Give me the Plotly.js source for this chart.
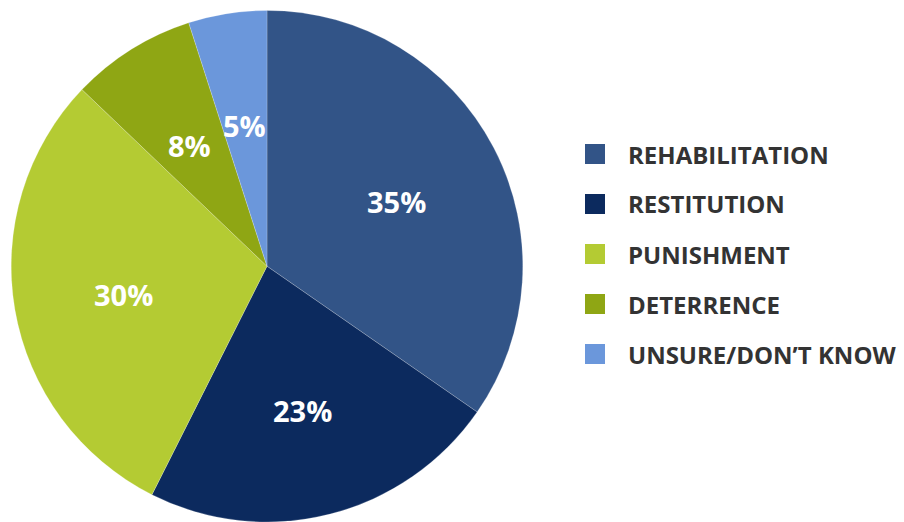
<!DOCTYPE html>
<html>
<head>
<meta charset="utf-8">
<script src="https://cdn.plot.ly/plotly-3.0.1.min.js"></script>
<style>
  html, body { margin: 0; padding: 0; background: #fff; }
  #chart { width: 904px; height: 522px; }
</style>
</head>
<body>
<div id="chart"></div>
<script>
  // --- Data ---
  const categories = ["REHABILITATION", "RESTITUTION", "PUNISHMENT", "DETERRENCE", "UNSURE/DON\u2019T KNOW"];
  const shares = [35, 23, 30, 8, 5];
  const sliceColors = ["#325487", "#0c2a5e", "#b4cb33", "#8fa614", "#6b97db"];

  const W = 904, H = 522;
  const pieDomainX = [10 / W, 524 / W];
  const pieDomainY = [0, 0.98];

  const shapes = [];
  const annotations = [];

  // Legend is drawn by hand so the swatches can be big squares like the original
  const legendX = 585 / W;        // left edge of swatches (paper)
  const legendTop = 154;          // px from top, first row centre
  const legendStep = 50;          // px between rows
  const swatch = 20;              // px
  categories.forEach(function (name, i) {
    const yc = 1 - (legendTop + i * legendStep) / H;
    const h = swatch / 2 / H;
    shapes.push({
      type: "rect", xref: "paper", yref: "paper",
      x0: legendX, x1: legendX + swatch / W,
      y0: yc - h, y1: yc + h,
      fillcolor: sliceColors[i], line: { width: 0 }
    });
    annotations.push({
      xref: "paper", yref: "paper", x: 626 / W, y: yc,
      xanchor: "left", yanchor: "middle", showarrow: false,
      text: name,
      font: { family: "Open Sans", size: 24, color: "#333333", weight: 700 }
    });
  });

  // Percentage labels sit at ~57% of the radius on each slice's mid-angle
  // (plotly pushes the small-slice labels out to the rim, the original does not)
  const total = shares.reduce(function (a, b) { return a + b; }, 0);
  const cxPx = (pieDomainX[0] + pieDomainX[1]) / 2 * W;
  const cyPx = (pieDomainY[0] + pieDomainY[1]) / 2 * H;
  const rPx = Math.min((pieDomainX[1] - pieDomainX[0]) * W, (pieDomainY[1] - pieDomainY[0]) * H) / 2;
  const labelR = 0.57;
  let cum = 0;
  shares.forEach(function (v) {
    const mid = (cum + v / 2) / total * 2 * Math.PI; // clockwise from 12 o'clock
    cum += v;
    annotations.push({
      xref: "paper", yref: "paper",
      x: (cxPx + labelR * rPx * Math.sin(mid)) / W,
      y: (cyPx + labelR * rPx * Math.cos(mid)) / H,
      xanchor: "center", yanchor: "middle", showarrow: false,
      yshift: -3,
      text: v + "%",
      font: { family: "Open Sans", size: 29, color: "#ffffff", weight: 700 }
    });
  });

  const data = [{
    type: "pie",
    labels: categories,
    values: shares,
    sort: false,
    direction: "clockwise",
    rotation: 0,
    marker: { colors: sliceColors, line: { color: "rgba(255,255,255,0.4)", width: 0.5 } },
    textinfo: "none",
    hoverinfo: "label+value",
    domain: { x: pieDomainX, y: pieDomainY }
  }];

  const layout = {
    width: W,
    height: H,
    margin: { l: 0, r: 0, t: 0, b: 0 },
    paper_bgcolor: "#ffffff",
    showlegend: false,
    shapes: shapes,
    annotations: annotations
  };

  Plotly.newPlot("chart", data, layout, { displayModeBar: false, staticPlot: true });
</script>
</body>
</html>
